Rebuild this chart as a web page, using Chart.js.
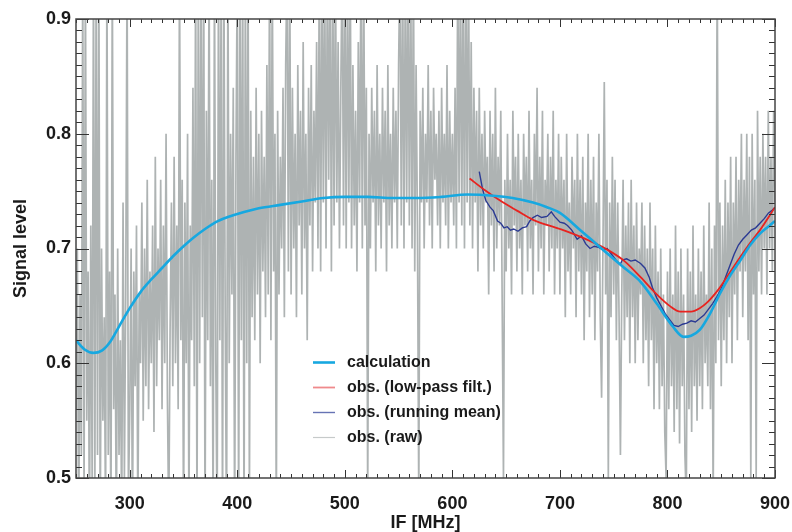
<!DOCTYPE html>
<html>
<head>
<meta charset="utf-8">
<script src="https://cdn.jsdelivr.net/npm/chart.js@4.4.1/dist/chart.umd.min.js"></script>
<style>
  html, body { margin: 0; padding: 0; background: #fff; }
  #wrap { width: 792px; height: 532px; }
</style>
</head>
<body>
<div id="wrap"><canvas id="myChart" width="792" height="532"></canvas></div>
<script>
// axis ticks
var xTicks = [300, 400, 500, 600, 700, 800, 900];
var yTicks = [0.5, 0.6, 0.7, 0.8, 0.9];

// calculation (cyan)
var calcX = [250, 258, 266, 274, 282, 290, 300, 310, 320, 330, 340, 350, 360, 370, 380, 390, 400, 420, 440, 460, 480, 500, 521, 545, 567, 590, 614, 638, 656, 675, 688, 700, 719, 740, 760, 775, 790, 805, 815, 822, 830, 840, 849, 858, 868, 877, 886, 895, 900];
var calcY = [0.620, 0.612, 0.609, 0.611, 0.619, 0.632, 0.648, 0.662, 0.673, 0.683, 0.693, 0.702, 0.710, 0.717, 0.723, 0.727, 0.730, 0.735, 0.738, 0.741, 0.744, 0.745, 0.745, 0.744, 0.744, 0.745, 0.747, 0.746, 0.744, 0.740, 0.736, 0.731, 0.716, 0.699, 0.683, 0.671, 0.652, 0.632, 0.623, 0.624, 0.629, 0.644, 0.661, 0.676, 0.690, 0.703, 0.713, 0.720, 0.724];

// obs. low-pass filtered (red)
var lowX = [616, 630, 644, 660, 675, 700, 722, 744, 760, 775, 790, 802, 812, 822, 830, 837, 848, 858, 868, 877, 886, 900];
var lowY = [0.761, 0.751, 0.742, 0.733, 0.725, 0.717, 0.709, 0.699, 0.689, 0.675, 0.660, 0.650, 0.645, 0.645, 0.648, 0.653, 0.665, 0.679, 0.693, 0.705, 0.716, 0.736];

// obs. running mean (dark blue)
var meanX = [625, 628, 631, 635, 638, 642, 645, 648, 651, 654, 657, 661, 665, 669, 672, 675, 679, 683, 688, 692, 695, 700, 704, 707, 711, 716, 720, 724, 728, 732, 736, 740, 744, 748, 752, 756, 758, 762, 766, 770, 775, 779, 783, 786, 790, 794, 798, 802, 806, 810, 814, 818, 822, 826, 830, 834, 838, 842, 846, 850, 854, 858, 862, 866, 870, 874, 878, 882, 886, 890, 894, 897, 900];
var meanY = [0.767, 0.752, 0.742, 0.736, 0.733, 0.724, 0.722, 0.718, 0.719, 0.716, 0.717, 0.715, 0.718, 0.719, 0.724, 0.727, 0.729, 0.727, 0.728, 0.732, 0.728, 0.723, 0.722, 0.720, 0.716, 0.708, 0.711, 0.704, 0.700, 0.702, 0.701, 0.699, 0.700, 0.695, 0.690, 0.686, 0.690, 0.691, 0.689, 0.690, 0.687, 0.683, 0.675, 0.666, 0.657, 0.650, 0.643, 0.638, 0.633, 0.632, 0.634, 0.635, 0.637, 0.636, 0.639, 0.642, 0.647, 0.652, 0.658, 0.665, 0.675, 0.685, 0.695, 0.703, 0.708, 0.712, 0.716, 0.718, 0.722, 0.726, 0.731, 0.733, 0.736];

// obs. raw (grey), one value every 1.25 MHz from 250 to 900 (rows of 50 MHz)
var rawStart = 250, rawStep = 1.25;
var rawY = [
  0.56,0.70,0.45,0.66,0.52,0.95,0.48,0.95,0.55,0.68,0.45,0.72,0.50,0.95,0.47,0.95,0.52,0.95,0.45,0.70,
  0.55,0.64,0.46,0.95,0.52,0.68,0.45,0.95,0.56,0.66,0.45,0.70,0.52,0.62,0.46,0.74,0.50,0.66,0.95,0.48,
  0.56,0.70,0.45,0.68,0.58,0.72,0.46,0.66,0.60,0.74,0.55,0.70,0.58,0.76,0.56,0.68,0.60,0.72,0.54,0.78,
  0.58,0.70,0.62,0.76,0.56,0.72,0.60,0.80,0.57,0.46,0.63,0.74,0.58,0.78,0.60,0.72,0.56,0.95,0.62,0.76,
  0.45,0.74,0.60,0.80,0.46,0.72,0.62,0.84,0.58,0.95,0.45,0.95,0.60,0.95,0.64,0.95,0.45,0.82,0.62,0.95,
  0.58,0.76,0.45,0.95,0.60,0.45,0.95,0.62,0.95,0.45,0.95,0.64,0.45,0.95,0.60,0.80,0.66,0.84,0.45,0.78,
  0.95,0.45,0.95,0.62,0.95,0.45,0.95,0.60,0.95,0.48,0.82,0.64,0.78,0.62,0.84,0.66,0.80,0.60,0.82,0.68,
  0.78,0.64,0.86,0.66,0.95,0.62,0.95,0.68,0.80,0.46,0.82,0.66,0.78,0.70,0.84,0.64,0.86,0.95,0.68,0.95,
  0.66,0.84,0.70,0.80,0.64,0.86,0.72,0.82,0.66,0.88,0.70,0.80,0.62,0.84,0.72,0.86,0.68,0.82,0.74,0.88,
  0.70,0.95,0.68,0.95,0.74,0.95,0.70,0.95,0.76,0.95,0.68,0.95,0.72,0.95,0.74,0.88,0.70,0.84,0.95,0.72,
  0.95,0.70,0.95,0.74,0.95,0.70,0.86,0.72,0.82,0.68,0.88,0.74,0.95,0.70,0.95,0.72,0.84,0.48,0.80,0.70,
  0.84,0.74,0.82,0.68,0.86,0.72,0.80,0.70,0.84,0.74,0.82,0.68,0.86,0.72,0.80,0.70,0.84,0.74,0.82,0.70,
  0.86,0.95,0.72,0.95,0.70,0.95,0.74,0.95,0.72,0.95,0.70,0.95,0.68,0.86,0.72,0.48,0.82,0.74,0.84,0.70,
  0.80,0.74,0.86,0.72,0.82,0.70,0.84,0.76,0.80,0.72,0.82,0.70,0.84,0.74,0.80,0.72,0.86,0.70,0.82,0.74,
  0.80,0.72,0.84,0.70,0.95,0.74,0.95,0.72,0.95,0.70,0.95,0.74,0.95,0.72,0.88,0.70,0.84,0.74,0.82,0.68,
  0.84,0.72,0.80,0.70,0.82,0.74,0.78,0.66,0.82,0.72,0.80,0.68,0.84,0.70,0.78,0.72,0.82,0.66,0.50,0.76,
  0.68,0.80,0.70,0.76,0.66,0.82,0.72,0.78,0.68,0.80,0.70,0.76,0.66,0.80,0.72,0.78,0.68,0.82,0.70,0.76,
  0.66,0.80,0.72,0.84,0.68,0.78,0.70,0.82,0.66,0.76,0.72,0.80,0.68,0.78,0.70,0.82,0.66,0.76,0.70,0.80,
  0.66,0.78,0.70,0.76,0.64,0.80,0.68,0.74,0.66,0.78,0.70,0.76,0.64,0.80,0.68,0.76,0.66,0.78,0.62,0.74,
  0.68,0.80,0.64,0.76,0.66,0.78,0.62,0.74,0.68,0.80,0.64,0.57,0.70,0.845,0.66,0.76,0.50,0.74,0.64,0.78,
  0.66,0.76,0.62,0.74,0.64,0.52,0.66,0.76,0.62,0.72,0.64,0.74,0.60,0.76,0.64,0.72,0.60,0.74,0.62,0.70,
  0.66,0.74,0.60,0.72,0.62,0.70,0.58,0.74,0.62,0.70,0.56,0.72,0.60,0.68,0.56,0.70,0.58,0.66,0.54,0.50,
  0.68,0.56,0.70,0.58,0.66,0.54,0.72,0.56,0.68,0.53,0.70,0.58,0.66,0.52,0.48,0.70,0.56,0.68,0.54,0.72,
  0.58,0.66,0.55,0.70,0.58,0.68,0.56,0.72,0.60,0.66,0.58,0.74,0.56,0.70,0.48,0.72,0.60,0.95,0.62,0.74,
  0.58,0.72,0.62,0.76,0.60,0.74,0.64,0.78,0.60,0.74,0.66,0.78,0.62,0.76,0.68,0.80,0.64,0.76,0.68,0.80,
  0.62,0.78,0.50,0.80,0.66,0.76,0.50,0.82,0.68,0.78,0.66,0.80,0.70,0.78,0.66,0.82,0.70,0.78,0.68,0.82,
  0.74
];

function pairs(xs, ys) {
  return ys.map(function(y, i) { return {x: xs[i], y: y}; });
}
var rawData = rawY.map(function(y, i) { return {x: rawStart + i * rawStep, y: y}; });

var FONT = 'Liberation Sans, Arial, Helvetica, sans-serif';
var INK = '#1a1a1a';

// tick marks inside the box, plot frame and the in-plot legend
var framePlugin = {
  id: 'frame',
  afterDatasetsDraw: function(chart) {
    var c = chart.ctx, a = chart.chartArea;
    var xs = chart.scales.x, ys = chart.scales.y;
    c.save();
    c.strokeStyle = '#333';
    c.lineWidth = 1;
    c.beginPath();
    for (var v = 250; v <= 900; v += 10) {
      var px = Math.round(xs.getPixelForValue(v)) + 0.5;
      var len = (v % 100 === 0) ? 8 : 4;
      c.moveTo(px, a.bottom); c.lineTo(px, a.bottom - len);
      c.moveTo(px, a.top); c.lineTo(px, a.top + len);
    }
    for (var k = 50; k <= 90; k++) {
      var py = Math.round(ys.getPixelForValue(k / 100)) + 0.5;
      var l2 = (k % 10 === 0) ? 13 : 6;
      c.moveTo(a.left, py); c.lineTo(a.left + l2, py);
      c.moveTo(a.right, py); c.lineTo(a.right - l2, py);
    }
    c.stroke();
    c.lineWidth = 1.5;
    c.strokeStyle = '#444';
    c.strokeRect(a.left, a.top, a.right - a.left, a.bottom - a.top);

    // legend
    c.font = 'bold 16px ' + FONT;
    c.textBaseline = 'middle';
    c.textAlign = 'left';
    chart.data.datasets.forEach(function(ds, i) {
      var y = 362.5 + i * 25;
      c.strokeStyle = ds.legendColor || ds.borderColor;
      c.lineWidth = ds.legendWidth || ds.borderWidth;
      c.beginPath(); c.moveTo(313, y); c.lineTo(335, y); c.stroke();
      c.fillStyle = INK;
      c.fillText(ds.label, 347, y);
    });
    c.restore();
  }
};

var ctx = document.getElementById('myChart').getContext('2d');
var chart = new Chart(ctx, {
  type: 'line',
  data: {
    datasets: [{
      label: 'calculation',
      data: pairs(calcX, calcY),
      borderColor: '#17a8e0',
      borderWidth: 2.6,
      cubicInterpolationMode: 'monotone',
      pointRadius: 0
    }, {
      label: 'obs. (low-pass filt.)',
      data: pairs(lowX, lowY),
      borderColor: '#e8231f',
      legendColor: '#ef8a8c',
      borderWidth: 1.8,
      cubicInterpolationMode: 'monotone',
      pointRadius: 0
    }, {
      label: 'obs. (running mean)',
      data: pairs(meanX, meanY),
      borderColor: '#2b3a93',
      legendColor: '#6673b4',
      borderWidth: 1.4,
      pointRadius: 0
    }, {
      label: 'obs. (raw)',
      data: rawData,
      borderColor: '#aeb3b3',
      legendColor: '#c6caca',
      borderWidth: 1.7,
      legendWidth: 1.2,
      pointRadius: 0
    }]
  },
  options: {
    responsive: false,
    animation: false,
    layout: { padding: { top: 19, right: 17, left: 0, bottom: 0 } },
    plugins: { legend: { display: false }, tooltip: { enabled: false } },
    scales: {
      x: {
        type: 'linear',
        min: 250, max: 900,
        afterFit: function(s) { s.height = 54; s.paddingLeft = 0; s.paddingRight = 0; },
        afterBuildTicks: function(s) { s.ticks = xTicks.map(function(v) { return {value: v}; }); },
        grid: { display: false, drawTicks: false },
        border: { display: false },
        ticks: { color: INK, padding: 15, font: { family: FONT, size: 18, weight: 'bold' } },
        title: { display: true, text: 'IF [MHz]', color: INK, padding: { top: -11, bottom: 0 },
                 font: { family: FONT, size: 18, weight: 'bold', lineHeight: 1 } }
      },
      y: {
        min: 0.5, max: 0.9,
        afterFit: function(s) { s.width = 76; s.paddingTop = 0; s.paddingBottom = 0; },
        afterBuildTicks: function(s) { s.ticks = yTicks.map(function(v) { return {value: v}; }); },
        grid: { display: false, drawTicks: false },
        border: { display: false },
        ticks: { color: INK, padding: 5, font: { family: FONT, size: 18, weight: 'bold' },
                 callback: function(v) { return v.toFixed(1); } },
        title: { display: true, text: 'Signal level', color: INK, padding: { top: 12, bottom: 0 },
                 font: { family: FONT, size: 18, weight: 'bold', lineHeight: 1 } }
      }
    }
  },
  plugins: [framePlugin]
});
</script>
</body>
</html>
